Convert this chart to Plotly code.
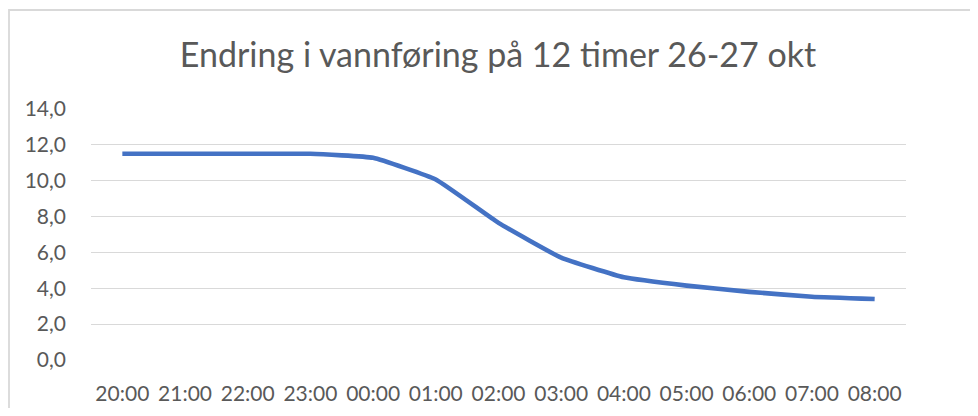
"""Endring i vannføring – linjediagram i Excel-stil."""

import plotly.graph_objects as go

# Data lest av bildet
timer = ["20:00", "21:00", "22:00", "23:00", "00:00", "01:00", "02:00",
         "03:00", "04:00", "05:00", "06:00", "07:00", "08:00"]
vannforing = [11.5, 11.5, 11.5, 11.5, 11.28, 10.07, 7.65, 5.71, 4.61, 4.15, 3.8, 3.53, 3.4]
y_ticks = [0, 2, 4, 6, 8, 10, 12, 14]
y_ticktext = ["0,0", "2,0", "4,0", "6,0", "8,0", "10,0", "12,0", "14,0"]

TITTEL = "Endring i vannføring på 12 timer 26-27 okt"

# siden har 8 px marg rundt figuren
OFF = 8
W, H = 978 - 2 * OFF, 416 - 2 * OFF
# plottområde i skjermpiksler
L, R, T, B = 91 - OFF, 906 - OFF, 109 - OFF, 360 - OFF

FONT = "Lato, 'Open Sans', sans-serif"
GRAA = "#595959"

fig = go.Figure()
fig.add_trace(go.Scatter(
    x=timer, y=vannforing, mode="lines",
    line=dict(color="#4472C4", width=4.6, shape="spline", smoothing=0.35),
    hoverinfo="x+y",
))


def px_x(p):
    return (p - OFF - L) / (R - L)


def px_y(p):
    return (B - (p - OFF)) / (B - T)


fig.update_layout(
    width=W, height=H,
    margin=dict(l=L, r=W - R, t=T, b=H - B, pad=0, autoexpand=False),
    paper_bgcolor="white", plot_bgcolor="white",
    showlegend=False,
    font=dict(family=FONT, color=GRAA, size=21),
    title=dict(text=TITTEL, x=px_x(498), xref="paper", xanchor="center",
               y=1 - (55 - OFF) / H, yanchor="middle",
               font=dict(size=34, color=GRAA, family=FONT)),
    shapes=[dict(type="rect", xref="paper", yref="paper",
                 x0=px_x(9), x1=px_x(1000), y0=px_y(440), y1=px_y(10),
                 line=dict(color="#d9d9d9", width=1.8), layer="below")],
)

fig.update_xaxes(
    type="category", range=[-0.5, 12.5], automargin=False,
    showgrid=False, showline=False, zeroline=False, ticks="",
    ticklabelstandoff=19,
    tickfont=dict(size=21, color=GRAA),
)
fig.update_yaxes(
    range=[0, 14], tickvals=y_ticks, ticktext=y_ticktext, automargin=False,
    showgrid=True, gridcolor="#d9d9d9", gridwidth=1.3,
    zeroline=False, showline=False, ticks="",
    ticklabelstandoff=24,
    tickfont=dict(size=21, color=GRAA),
)

fig.write_html("out.html")
